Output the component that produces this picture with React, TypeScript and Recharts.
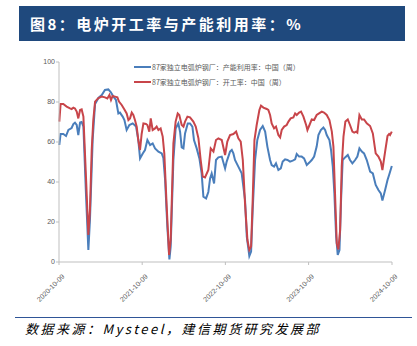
import React from "react";
import { LineChart, Line, XAxis, YAxis } from "recharts";

// Week offsets from 2020-10-09 and values
const utilWeeks = [0.2,1.0,2.7,4.4,5.9,7.9,9.0,10.0,11.1,12.1,13.2,14.2,15.3,16.9,18.4,19.4,21.1,22.6,24.7,26.8,28.8,30.9,32.4,34.1,35.7,37.2,38.2,39.9,41.0,42.4,44.1,46.2,48.3,49.7,50.8,52.5,53.9,55.4,57.1,58.7,60.2,62.3,64.4,65.4,66.5,67.9,69.2,70.0,71.7,73.1,74.8,75.9,76.9,78.0,79.0,80.7,82.1,83.6,84.6,86.3,88.0,89.4,90.5,92.2,93.6,94.7,95.7,97.2,98.4,99.9,102.0,104.1,105.1,107.2,108.3,109.3,110.3,112.4,114.5,116.6,117.7,119.3,120.4,121.4,122.9,124.3,126.0,127.7,129.2,130.6,132.3,133.3,134.8,136.0,137.5,139.0,140.2,141.7,143.2,144.8,146.5,148.0,149.0,150.5,152.1,153.6,155.3,156.9,158.4,159.9,161.5,162.6,164.1,165.7,166.8,167.8,169.5,170.5,171.6,172.6,173.7,174.7,175.8,176.8,177.8,179.3,181.0,182.4,183.9,185.6,187.0,188.3,189.8,191.2,192.9,195.0,196.7,198.5,200.2,201.7,202.7,204.4,205.9,206.9,208.6];
const utilValues = [58.5,64,64,63,66,67,69,69.7,68.5,63.5,69.7,70,67.7,34,6,21,61,79,82,83.5,86,86.3,85,82.7,81,74.3,74.7,72.7,71,66,68.5,69.3,67.7,61,51.8,54.3,56,61,58.5,59.3,56.8,55.2,54.3,52,41,17.7,1.3,7.7,51,66.8,69.3,65,57.3,56.8,64.3,69.3,69.3,67.7,61,56.8,51.8,44.3,32.7,31.8,35,41.8,44.3,39.3,51,52.3,52.7,46.8,50.2,55.2,56,54.3,51,47.7,44.3,31,12.7,3,5.2,26,51,61,66,68,65.2,57.7,51,48.5,47.7,49.3,46,46.8,50.2,51.3,51,50.2,50.7,51.3,54,52.7,52.7,51.8,48.5,49.7,51,52.7,57.7,63.5,66,67.2,66,63.5,61,56,47.7,34.3,12.7,3.5,6,31,51,52.3,53.5,51,49.3,51,52.7,56.8,55.2,54.3,51,45.2,44.3,38.5,36,34.3,30.7,36,41,43.5,48];

const rateWeeks = [0.2,1.0,2.7,4.8,6.9,7.9,9.0,10.0,11.1,12.1,13.2,14.2,15.3,16.9,18.4,19.4,20.5,21.5,22.6,24.7,26.8,28.8,30.3,31.6,32.6,33.6,35.1,36.6,37.6,39.3,41.0,42.4,43.5,44.5,45.6,46.6,47.6,48.7,49.7,50.8,51.8,52.9,54.5,55.4,56.6,57.5,58.7,60.2,61.2,62.3,63.7,65.0,66.0,67.5,69.0,70.0,71.7,73.1,74.4,75.4,76.9,78.0,79.0,80.5,82.1,84.2,85.7,87.4,88.8,90.1,91.5,93.6,95.1,96.8,98.4,99.9,102.0,104.1,105.5,107.2,109.3,111.0,112.4,113.9,115.2,116.6,118.1,119.3,120.4,121.4,122.5,123.9,125.6,126.6,128.1,130.2,131.2,132.3,133.3,134.8,136.0,137.5,138.6,139.6,141.1,142.7,143.8,145.2,146.9,148.0,149.0,150.5,151.7,153.2,154.9,155.7,157.0,158.4,159.9,161.5,163.0,164.7,166.1,167.8,169.5,171.0,172.0,173.0,174.1,175.1,176.2,177.2,178.3,179.5,181.0,182.4,183.9,185.0,186.2,187.0,188.3,189.8,191.2,192.9,195.0,196.7,198.5,200.2,201.7,202.7,204.4,205.9,206.9,207.5,208.6];
const rateValues = [70.2,79,79,77.7,76.8,76.5,77.2,76.8,75.2,71.8,76,76.3,72.7,42.7,13.5,26,56,71,80.2,82,82.7,82.3,81.8,83.5,81,83,82.7,82.3,80.2,78.5,76.3,74.3,71,71.8,74.7,73.5,71,67.7,61,56,64,69.3,69,68.5,65.2,71.8,66,66.8,67.7,66,66.8,62.7,54.3,27.7,3.5,11,59.3,70.2,74.3,73.5,68.5,67.7,70.2,72.7,72.3,70.2,67.7,61.8,51,42.7,42.3,46,56.8,55.2,61,61.8,61,53.5,60.2,63.5,64,65.2,61.8,60.2,51,29.3,11,6,7.7,31,61,68.5,76,78.2,77.2,76.5,76,73.5,69.3,66.8,67.7,63.5,62.3,66,67.7,68.5,70.2,71.8,72.3,74.3,73.5,74.7,75.2,72.7,68.5,66,68.5,71.3,71,73.5,74.3,75.2,74.7,73.5,71,65.2,57.7,34.3,9.3,6.3,16,47.7,62.7,70.2,71.3,68.5,65.2,64.7,65.2,64.7,73.5,71.3,71.3,69.3,68,64.3,54.3,52.7,50.2,46,55.2,63,64,63.5,65.2];

const tickDays = [0, 365, 730, 1095, 1461];
const tickLabels = ["2020-10-09", "2021-10-09", "2022-10-09", "2023-10-09", "2024-10-09"];
const yTicks = [0, 20, 40, 60, 80, 100];

const utilName = "87家独立电弧炉钢厂：产能利用率：中国（周）";
const rateName = "87家独立电弧炉钢厂：开工率：中国（周）";
const titleText = "图8：电炉开工率与产能利用率：%";
const sourceText = "数据来源：Mysteel，建信期货研究发展部";

const BLUE = "#4A7EBB";
const RED = "#C8454A";

const utilData = utilWeeks.map((w, i) => ({ day: w * 7, v: utilValues[i] }));
const rateData = rateWeeks.map((w, i) => ({ day: w * 7, v: rateValues[i] }));

const XTick = (props: any) => {
  const { x, y, payload } = props;
  const idx = tickDays.indexOf(payload.value);
  return (
    <text x={0} y={0} textAnchor="end" transform={`translate(${x + 6},${y + 10}) rotate(-45)`} fontSize={7} fill="#595959" fontFamily="Liberation Sans, Arial, sans-serif">
      {idx >= 0 ? tickLabels[idx] : ""}
    </text>
  );
};

export default function App() {
  return (
    <div style={{ position: "absolute", left: 0, top: 0, width: 417, height: 346, background: "#fff", overflow: "hidden" }}>
      <div style={{ position: "absolute", left: 19, top: 6, width: 386, height: 35, background: "#1F497D" }} />
      <div style={{ position: "absolute", left: 30, top: 6, height: 35, lineHeight: "35px", color: "#fff", fontFamily: "'Noto Sans CJK SC', sans-serif", fontWeight: 700, fontSize: 15, letterSpacing: 2.5, whiteSpace: "nowrap" }}>
        {titleText}
      </div>
      <div style={{ position: "absolute", left: 0, top: 0 }}>
        <LineChart width={417} height={346} margin={{ top: 62, right: 25, left: 29, bottom: 34 }}>
          <XAxis
            dataKey="day"
            type="number"
            domain={[0, 1461]}
            ticks={tickDays}
            interval={0}
            height={50}
            tick={<XTick />}
            tickSize={3}
            stroke="#BFBFBF"
          />
          <YAxis
            type="number"
            domain={[0, 100]}
            ticks={yTicks}
            width={30}
            tickSize={3}
            tickMargin={1}
            stroke="#BFBFBF"
            tick={{ fontSize: 7, fill: "#595959", fontFamily: "Liberation Sans, Arial, sans-serif" }}
          />
          <Line data={utilData} dataKey="v" name={utilName} stroke={BLUE} strokeWidth={2} dot={false} isAnimationActive={false} type="linear" />
          <Line data={rateData} dataKey="v" name={rateName} stroke={RED} strokeWidth={2} dot={false} isAnimationActive={false} type="linear" />
        </LineChart>
      </div>
      <div style={{ position: "absolute", left: 134, top: 59, fontFamily: "'Noto Sans CJK SC', sans-serif", fontSize: 7, color: "#595959" }}>
        {[{ n: utilName, c: BLUE }, { n: rateName, c: RED }].map((it) => (
          <div key={it.n} style={{ display: "flex", alignItems: "center", height: 15, whiteSpace: "nowrap" }}>
            <div style={{ width: 17, height: 2, background: it.c, marginRight: 1 }} />
            <span>{it.n}</span>
          </div>
        ))}
      </div>
      <div style={{ position: "absolute", left: 15, top: 317, width: 397, height: 1, background: "#2F5597" }} />
      <div style={{ position: "absolute", left: 25, top: 321, fontFamily: "'Noto Sans CJK SC', sans-serif", fontStyle: "italic", fontSize: 13, letterSpacing: 2.5, color: "#000", whiteSpace: "nowrap", lineHeight: "16px" }}>
        {sourceText}
      </div>
    </div>
  );
}
